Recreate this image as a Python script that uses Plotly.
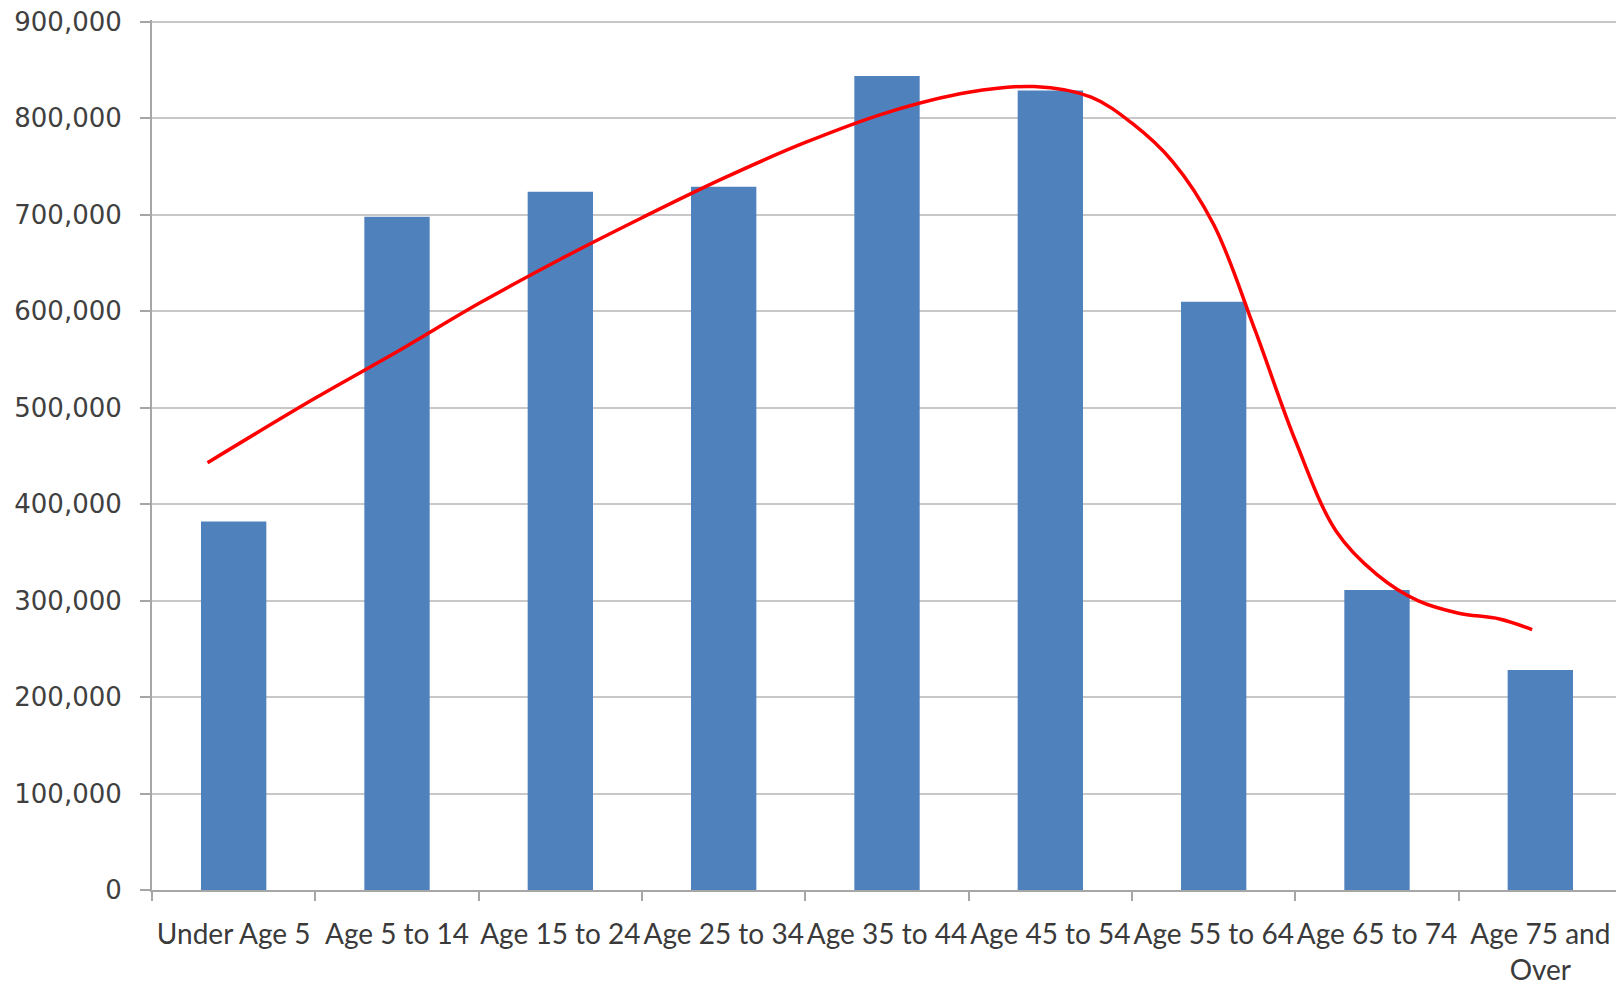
import plotly.graph_objects as go

categories = ["Under Age 5", "Age 5 to 14", "Age 15 to 24", "Age 25 to 34", "Age 35 to 44",
              "Age 45 to 54", "Age 55 to 64", "Age 65 to 74", "Age 75 and<br>Over"]
population = [382000, 698000, 724000, 729000, 844000, 829000, 610000, 311000, 228000]

# Freehand red trend curve, x in category-index units
curve_x = [-0.16, 0.5, 1.0, 1.5, 2.0, 2.5, 3.0, 3.5, 4.0, 4.5, 4.9, 5.25, 5.5,
           5.75, 6.0, 6.25, 6.5, 6.75, 7.0, 7.25, 7.5, 7.75, 7.95]
curve_y = [443000, 510000, 558000, 608000, 654000, 697000, 738000, 775000, 806000, 827000,
           833000, 822000, 795000, 755000, 690000, 582000, 466000, 372000, 327000, 300000,
           287000, 281000, 270000]

y_ticks = [0, 100000, 200000, 300000, 400000, 500000, 600000, 700000, 800000, 900000]

fig = go.Figure()
fig.add_trace(go.Bar(x=categories, y=population, marker=dict(color="#4F81BD", line=dict(width=0)),
                     xaxis="x", yaxis="y", showlegend=False))
fig.add_trace(go.Scatter(x=curve_x, y=curve_y, mode="lines",
                         line=dict(color="#FF0000", width=3.5, shape="spline", smoothing=1.0),
                         xaxis="x2", yaxis="y", showlegend=False))

fig.update_layout(
    width=1616, height=982,
    margin=dict(l=144, r=2, t=12, b=100),
    paper_bgcolor="white", plot_bgcolor="white",
    bargap=0.6,
    xaxis=dict(type="category", tickson="boundaries", ticks="outside", ticklen=9, tickwidth=2,
               tickcolor="#A6A6A6", showline=True, linecolor="#A6A6A6", linewidth=2,
               showgrid=False, tickfont=dict(family="Lato", size=28, color="#3A3A3A"),
               ticklabelstandoff=18, tickangle=0, automargin=False),
    xaxis2=dict(overlaying="x", range=[-0.5, 8.5], visible=False, showgrid=False),
    yaxis=dict(range=[0, 902000], tickvals=y_ticks, tickformat=",", ticks="outside", ticklen=10,
               tickwidth=2, tickcolor="#A6A6A6", showline=True, linecolor="#A6A6A6", linewidth=2,
               gridcolor="#C8C8C8", gridwidth=2, zeroline=False,
               tickfont=dict(family="DejaVu Sans", size=26, color="#404040"),
               ticklabelstandoff=13, ticklabeloverflow="allow", automargin=False),
)

fig.write_html("out.html")
